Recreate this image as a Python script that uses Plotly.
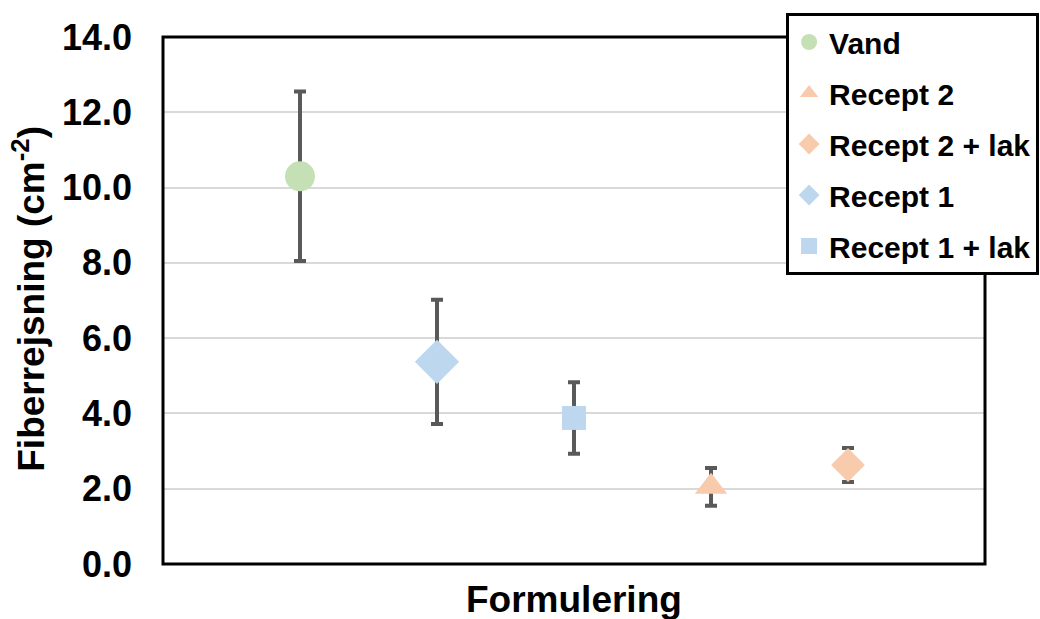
import plotly.graph_objects as go

series = ["Vand", "Recept 2", "Recept 2 + lak", "Recept 1", "Recept 1 + lak"]
x_pos = [1, 4, 5, 2, 3]
values = [10.3, 2.05, 2.63, 5.37, 3.88]
errors = [2.25, 0.5, 0.45, 1.65, 0.95]
colors = ["#C5E0B4", "#F8CBAD", "#F8CBAD", "#BDD7EE", "#BDD7EE"]
symbols = ["circle", "triangle-up", "diamond", "diamond", "square"]
sizes = [30, 28, 26, 34, 24]
y_ticks = [0, 2, 4, 6, 8, 10, 12, 14]

fig = go.Figure()
for i, name in enumerate(series):
    fig.add_trace(go.Scatter(
        x=[x_pos[i]], y=[values[i]], name=name, mode="markers",
        legendgroup=name,
        marker=dict(symbol=symbols[i], size=sizes[i], color=colors[i], line=dict(width=0)),
        error_y=dict(type="data", array=[errors[i]], color="#595959", thickness=4, width=6),
    ))

font_family = "Liberation Sans, Arial, sans-serif"
fig.update_layout(
    width=1040, height=619,
    margin=dict(l=163, r=55, t=37, b=55, autoexpand=False),
    paper_bgcolor="white", plot_bgcolor="white",
    font=dict(family=font_family, color="black"),
    xaxis=dict(range=[0, 6], showticklabels=False, showgrid=False, zeroline=False,
               showline=False, fixedrange=True),
    yaxis=dict(range=[0, 14], tickvals=y_ticks, ticktext=[f"{v:.1f}" for v in y_ticks],
               tickfont=dict(size=36, family=font_family, weight="bold", color="black"),
               showgrid=True, gridcolor="#D9D9D9", gridwidth=2, zeroline=False,
               showline=False, ticklabelstandoff=30),
    legend=dict(x=0.758, y=1.0455, xanchor="left", yanchor="top",
                bgcolor="white", bordercolor="black", borderwidth=3,
                font=dict(size=30, family=font_family, weight="bold", color="black"),
                tracegroupgap=9, itemwidth=30),
    showlegend=True,
)
fig.add_shape(type="rect", xref="paper", yref="paper", x0=0, x1=1, y0=0, y1=1,
              line=dict(color="black", width=3), layer="above")
fig.add_annotation(text="Fiberrejsning (cm<sup>-2</sup>)", xref="paper", yref="paper",
                   x=-0.162, y=0.503, xanchor="center", yanchor="middle",
                   textangle=-90, showarrow=False,
                   font=dict(size=37, family=font_family, weight="bold", color="black"))
fig.add_annotation(text="Formulering", xref="paper", yref="paper",
                   x=0.5, y=-0.068, yanchor="middle", showarrow=False,
                   font=dict(size=37, family=font_family, weight="bold", color="black"))

fig.write_html("out.html")
